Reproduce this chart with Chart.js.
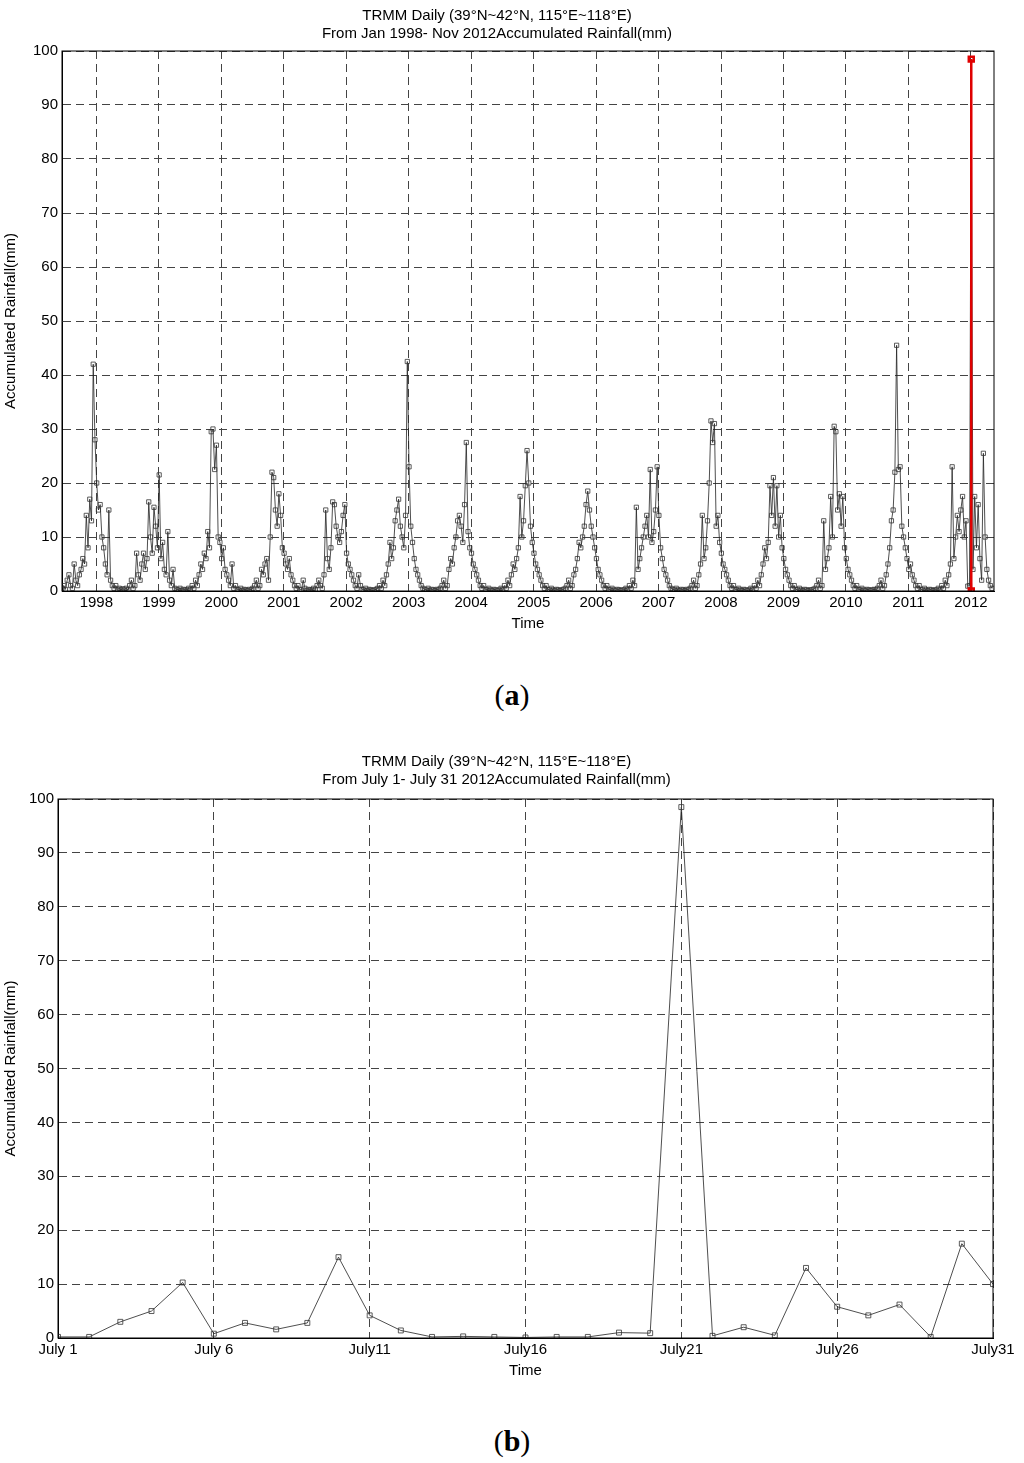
<!DOCTYPE html>
<html><head><meta charset="utf-8">
<script src="https://cdn.jsdelivr.net/npm/chart.js@4"></script>
<style>
body{margin:0;background:#fff;width:1024px;height:1463px;position:relative;font-family:"Liberation Sans",Arial,sans-serif}
.c{position:absolute;left:0;width:1024px}
.lab{position:absolute;width:1024px;text-align:center;font-family:"Liberation Serif","Times New Roman",serif;font-size:30px}
</style></head><body>
<div class="c" style="top:0;height:633px"><canvas id="c1"></canvas></div>
<div class="lab" style="top:678px">(<b>a</b>)</div>
<div class="c" style="top:753px;height:627px"><canvas id="c2"></canvas></div>
<div class="lab" style="top:1424px">(<b>b</b>)</div>
<script>
// Top panel: estimated values, ~36 samples per year (every ~10 days)
const years = [1998,1999,2000,2001,2002,2003,2004,2005,2006,2007,2008,2009,2010,2011,2012];
const rain1998=[0.5,1,0.3,2,3,1,0.5,5,2,1,3,4,6,5,14,8,17,13,42,28,20,15,16,10,8,5,3,15,2,1,0.5,1,0.3,0.5,0.2,0.4];
const rain1999=[0.3,0.5,0.2,1,2,0.5,1,7,3,2,5,7,4,6,16.5,10,7,15.5,12,8,21.5,6,9,4,3,11,2,1,4,0.5,0.3,0.2,0.5,0.1,0.3,0.2];
const rain2000=[0.2,0.5,0.3,1,0.5,2,1,3,5,4,7,6,11,8,29.5,30,22.5,27,10,9,6,8,4,3,2,1,5,0.5,1,0.3,0.2,0.5,0.1,0.3,0.2,0.1];
const rain2001=[0.3,0.2,0.5,1,2,0.5,1,4,3,5,6,2,10,22,21,15,12,18,14,8,7,5,4,6,3,2,1,0.5,1,0.3,0.2,2,0.5,0.1,0.3,0.2];
const rain2002=[0.2,0.5,0.3,1,2,1,0.5,3,15,6,4,8,16.5,16,12,10,9,11,14,16,7,5,4,3,2,1,0.5,3,1,0.3,0.2,0.5,0.1,0.3,0.2,0.1];
const rain2003=[0.2,0.3,0.5,1,0.5,2,1,3,5,9,6,8,13,15,17,12,10,8,14,42.5,23,12,9,6,4,3,2,1,0.5,0.3,0.2,0.5,0.1,0.3,0.2,0.1];
const rain2004=[0.3,0.2,0.5,1,2,0.5,1,4,6,5,8,10,13,14,12,9,16,27.5,11,8,7,5,4,3,2,1,0.5,1,0.3,0.2,0.5,0.2,0.1,0.3,0.2,0.1];
const rain2005=[0.2,0.5,0.3,1,0.5,2,1,3,5,4,6,8,17.5,10,13,19.5,26,20,12,9,7,5,4,3,2,1,0.5,1,0.3,0.2,0.5,0.2,0.1,0.3,0.2,0.1];
const rain2006=[0.2,0.3,0.5,1,2,0.5,1,3,4,6,9,8,10,12,16,18.5,15,12,10,8,6,4,3,2,1,0.5,1,0.3,0.2,0.5,0.2,0.1,0.3,0.2,0.1,0.2];
const rain2007=[0.2,0.5,0.3,1,0.5,2,1,15.5,4,6,8,10,12,14,10,22.5,9,11,15,23,14,8,6,4,3,2,1,0.5,0.3,0.2,0.5,0.2,0.1,0.3,0.2,0.1];
const rain2008=[0.3,0.2,0.5,1,2,0.5,1,3,5,14,6,8,13,20,31.5,27.5,31,12,14,9,7,5,4,3,2,1,0.5,1,0.3,0.2,0.5,0.2,0.1,0.3,0.2,0.1];
const rain2009=[0.2,0.5,0.3,1,0.5,2,1,3,5,8,6,9,19.5,14,21,12,19.5,10,14,8,6,4,3,2,1,0.5,1,0.3,0.2,0.5,0.2,0.1,0.3,0.2,0.1,0.2];
const rain2010=[0.2,0.3,0.5,1,2,0.5,1,13,4,6,8,17.5,10,30.5,29.5,15,18,12,17.5,8,6,4,3,2,1,0.5,1,0.3,0.2,0.5,0.2,0.1,0.3,0.2,0.1,0.2];
const rain2011=[0.3,0.2,0.5,1,2,0.5,1,3,5,8,13,15,22,45.5,22.5,23,12,10,8,6,4,5,3,2,1,0.5,1,0.3,0.2,0.5,0.2,0.1,0.3,0.2,0.1,0.2];
const rain2012=[0.2,0.5,0.3,1,0.5,2,1,3,5,23,6,10,14,11,15,17.5,10,13,0.9,1,98.5,4,17.5,8,16,6,2,25.5,10,4,2,1,0.5];
const yearly=[rain1998,rain1999,rain2000,rain2001,rain2002,rain2003,rain2004,rain2005,rain2006,rain2007,rain2008,rain2009,rain2010,rain2011,rain2012];
const peakTime=2012.556, peakValue=98.5;

// Bottom panel: July 2012 daily
const julyDays=[1,2,3,4,5,6,7,8,9,10,11,12,13,14,15,16,17,18,19,20,21,22,23,24,25,26,27,28,29,30,31];
const julyRain=[0.2,0.2,3,5,10.3,0.8,2.8,1.6,2.8,15,4.2,1.4,0.2,0.3,0.2,0.1,0.2,0.2,1.0,0.9,98.5,0.4,2.0,0.5,13,5.8,4.2,6.2,0.2,17.5,10];
const julyTicks=[1,6,11,16,21,26,31];
const julyTickLabels=['July 1','July 6','July11','July16','July21','July26','July31'];

const pts1=[];
years.forEach((y,k)=>yearly[k].forEach((v,i)=>pts1.push({x:y+i/36,y:v})));

const boxPlugin={id:'box',afterDraw(c){const a=c.chartArea,x=c.ctx;x.save();x.strokeStyle='#000';x.lineWidth=1;x.strokeRect(a.left,a.top,a.right-a.left,a.bottom-a.top);x.restore();}};
const font={family:'"Liberation Sans",Arial,sans-serif',size:15};
const grid={color:'#444',lineWidth:1,drawTicks:false};
const border={dash:[8,5],color:'#000'};
function yAxis(w){return {min:0,max:100,ticks:{stepSize:10,color:'#000',font,padding:4},grid,border,
  title:{display:true,text:'Accumulated Rainfall(mm)',color:'#000',font,padding:2},afterFit(s){s.width=w;}};}

new Chart(document.getElementById('c1'),{type:'line',
 data:{datasets:[
  {data:[{x:peakTime,y:0},{x:peakTime,y:peakValue}],borderColor:'#e00000',borderWidth:2.5,pointStyle:'rect',pointRadius:3.5,pointBorderColor:'#e00000',pointBackgroundColor:'rgba(0,0,0,0)'},
  {data:pts1,borderColor:'#222',borderWidth:0.8,pointStyle:'rect',pointRadius:3,pointBorderColor:'#333',pointBorderWidth:0.8,pointBackgroundColor:'rgba(0,0,0,0)'}
 ]},
 options:{responsive:true,maintainAspectRatio:false,animation:false,
  layout:{padding:{left:0,right:30,top:7,bottom:0}},
  plugins:{legend:{display:false},tooltip:{enabled:false},
   title:{display:true,text:['TRMM Daily (39°N~42°N, 115°E~118°E)','From Jan 1998- Nov 2012Accumulated Rainfall(mm)'],color:'#000',font:{...font,weight:'normal'},padding:{top:0,bottom:8}}},
  scales:{x:{type:'linear',min:1998.0,max:2012.92,
    afterBuildTicks(s){s.ticks=years.map(y=>({value:y+0.55}));},
    ticks:{color:'#000',font,padding:3,autoSkip:false,maxRotation:0,callback:v=>String(Math.floor(v))},
    grid,border,title:{display:true,text:'Time',color:'#000',font,padding:0}},
   y:yAxis(62)}},
 plugins:[boxPlugin]});

new Chart(document.getElementById('c2'),{type:'line',
 data:{datasets:[{data:julyDays.map((d,i)=>({x:d,y:julyRain[i]})),borderColor:'#222',borderWidth:0.8,pointStyle:'rect',pointRadius:3.5,pointBorderColor:'#333',pointBorderWidth:0.8,pointBackgroundColor:'rgba(0,0,0,0)'}]},
 options:{responsive:true,maintainAspectRatio:false,animation:false,
  layout:{padding:{left:0,right:31,top:0,bottom:0}},
  plugins:{legend:{display:false},tooltip:{enabled:false},
   title:{display:true,text:['TRMM Daily (39°N~42°N, 115°E~118°E)','From July 1- July 31 2012Accumulated Rainfall(mm)'],color:'#000',font:{...font,weight:'normal'},padding:{top:0,bottom:10}}},
  scales:{x:{type:'linear',min:1,max:31,
    afterBuildTicks(s){s.ticks=julyTicks.map(v=>({value:v}));},
    ticks:{color:'#000',font,padding:3,autoSkip:false,maxRotation:0,callback:v=>julyTickLabels[julyTicks.indexOf(v)]},
    grid,border,title:{display:true,text:'Time',color:'#000',font,padding:0}},
   y:yAxis(58)}},
 plugins:[boxPlugin]});
</script></body></html>
